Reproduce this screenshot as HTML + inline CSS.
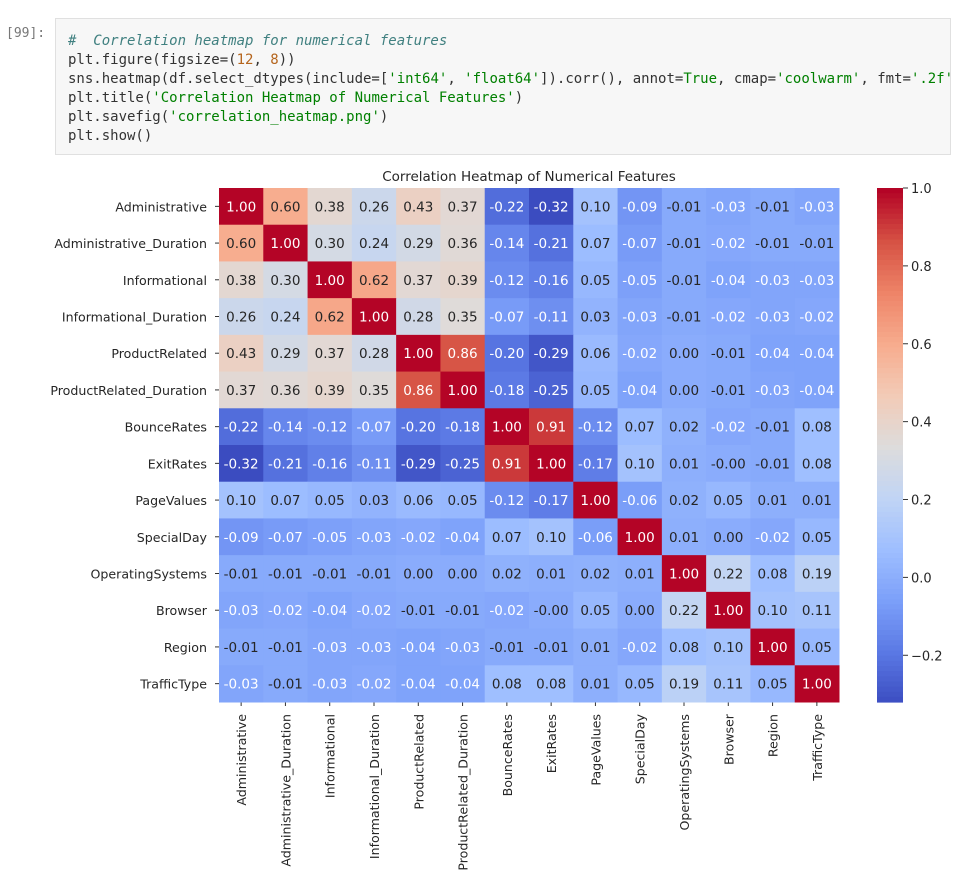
<!DOCTYPE html>
<html><head><meta charset="utf-8"><style>
body{margin:0;background:#fff;width:978px;height:871px;overflow:hidden;font-family:"DejaVu Sans","Liberation Sans",sans-serif;}
.prompt{position:absolute;left:6px;top:26px;font:13px "DejaVu Sans Mono","Liberation Mono",monospace;color:#777;}
.cell{position:absolute;left:55px;top:18px;width:896px;height:137px;background:#f7f7f7;border:1px solid #e0e0e0;box-sizing:border-box;overflow:hidden;}
pre{margin:0;position:absolute;left:12px;top:13px;font:14px/19px "DejaVu Sans Mono","Liberation Mono",monospace;color:#333;}
.c{color:#408080;font-style:italic}.s{color:#008000}.n{color:#b5651d}
</style></head><body>
<div class="prompt">[99]:</div>
<div class="cell"><pre><span class="c">#  Correlation heatmap for numerical features</span>
plt.figure(figsize=(<span class="n">12</span>, <span class="n">8</span>))
sns.heatmap(df.select_dtypes(include=[<span class="s">'int64'</span>, <span class="s">'float64'</span>]).corr(), annot=<span class="s">True</span>, cmap=<span class="s">'coolwarm'</span>, fmt=<span class="s">'.2f'</span>)
plt.title(<span class="s">'Correlation Heatmap of Numerical Features'</span>)
plt.savefig(<span class="s">'correlation_heatmap.png'</span>)
plt.show()</pre></div>
<svg id="chart" width="978" height="871" style="position:absolute;left:0;top:0"></svg>
<script>
const labels=["Administrative","Administrative_Duration","Informational","Informational_Duration","ProductRelated","ProductRelated_Duration","BounceRates","ExitRates","PageValues","SpecialDay","OperatingSystems","Browser","Region","TrafficType"];
const values=[
[1.00,0.60,0.38,0.26,0.43,0.37,-0.22,-0.32,0.10,-0.09,-0.01,-0.03,-0.01,-0.03],
[0.60,1.00,0.30,0.24,0.29,0.36,-0.14,-0.21,0.07,-0.07,-0.01,-0.02,-0.01,-0.01],
[0.38,0.30,1.00,0.62,0.37,0.39,-0.12,-0.16,0.05,-0.05,-0.01,-0.04,-0.03,-0.03],
[0.26,0.24,0.62,1.00,0.28,0.35,-0.07,-0.11,0.03,-0.03,-0.01,-0.02,-0.03,-0.02],
[0.43,0.29,0.37,0.28,1.00,0.86,-0.20,-0.29,0.06,-0.02,0.00,-0.01,-0.04,-0.04],
[0.37,0.36,0.39,0.35,0.86,1.00,-0.18,-0.25,0.05,-0.04,0.00,-0.01,-0.03,-0.04],
[-0.22,-0.14,-0.12,-0.07,-0.20,-0.18,1.00,0.91,-0.12,0.07,0.02,-0.02,-0.01,0.08],
[-0.32,-0.21,-0.16,-0.11,-0.29,-0.25,0.91,1.00,-0.17,0.10,0.01,-0.001,-0.01,0.08],
[0.10,0.07,0.05,0.03,0.06,0.05,-0.12,-0.17,1.00,-0.06,0.02,0.05,0.01,0.01],
[-0.09,-0.07,-0.05,-0.03,-0.02,-0.04,0.07,0.10,-0.06,1.00,0.01,0.00,-0.02,0.05],
[-0.01,-0.01,-0.01,-0.01,0.00,0.00,0.02,0.01,0.02,0.01,1.00,0.22,0.08,0.19],
[-0.03,-0.02,-0.04,-0.02,-0.01,-0.01,-0.02,-0.001,0.05,0.00,0.22,1.00,0.10,0.11],
[-0.01,-0.01,-0.03,-0.03,-0.04,-0.03,-0.01,-0.01,0.01,-0.02,0.08,0.10,1.00,0.05],
[-0.03,-0.01,-0.03,-0.02,-0.04,-0.04,0.08,0.08,0.01,0.05,0.19,0.11,0.05,1.00]];
const cbTicks=[1.0,0.8,0.6,0.4,0.2,0.0,-0.2];
const cbTickLabels=["1.0","0.8","0.6","0.4","0.2","0.0","\u22120.2"];
const vmin=-0.32,vmax=1.0;
const X0=219,X1=839,Y0=188,Y1=702,n=labels.length,cw=(X1-X0)/n,ch=(Y1-Y0)/n;
const stops=[[59,76,192],[90,120,228],[123,159,249],[158,190,255],[192,212,245],[221,220,220],[242,203,183],[247,172,142],[238,132,104],[214,82,68],[180,4,38]];
function cmap(t){t=Math.max(0,Math.min(1,t));const p=t*10,i=Math.min(9,Math.floor(p)),f=p-i;return stops[i].map((a,k)=>Math.round(a+(stops[i+1][k]-a)*f));}
function norm(v){return (v-vmin)/(vmax-vmin);}
function fmt(v){const s=Math.abs(v).toFixed(2);return (v<0?'-':'')+s;}
function lum(c){const l=c.map(x=>{x/=255;return x<=0.03928?x/12.92:Math.pow((x+0.055)/1.055,2.4)});return 0.2126*l[0]+0.7152*l[1]+0.0722*l[2];}
const svg=document.getElementById('chart'),NS="http://www.w3.org/2000/svg";
function el(t,a,txt){const e=document.createElementNS(NS,t);for(const k in a)e.setAttribute(k,a[k]);if(txt!==undefined)e.textContent=txt;svg.appendChild(e);return e;}
const t=el('text',{x:(X0+X1)/2,y:181,'text-anchor':'middle','font-size':'13.5',fill:'#262626'},'Correlation Heatmap of Numerical Features');


for(let r=0;r<n;r++){for(let c=0;c<n;c++){const v=values[r][c],col=cmap(norm(v));
const rc=el('rect',{x:X0+c*cw,y:Y0+r*ch,width:cw+0.5,height:ch+0.5,fill:`rgb(${col})`});


const tx=el('text',{x:X0+(c+0.5)*cw,y:Y0+(r+0.5)*ch+5,'text-anchor':'middle','font-size':'13.5',fill:lum(col)>0.408?'#262626':'#ffffff'},fmt(v));

}
const yl=el('text',{x:X0-12,y:Y0+(r+0.5)*ch+5,'text-anchor':'end','font-size':'12.6',fill:'#262626'},labels[r]);


const cx=X0+(r+0.5)*cw;
el('line',{x1:cx,x2:cx,y1:Y1,y2:Y1+4,stroke:'#333'});
const xl=el('text',{x:cx+5,y:Y1+12,'text-anchor':'end','font-size':'12.6',fill:'#262626',transform:`rotate(-90 ${cx+5} ${Y1+12})`},labels[r]);


el('line',{x1:X0-4,x2:X0,y1:Y0+(r+0.5)*ch,y2:Y0+(r+0.5)*ch,stroke:'#333'});}
const CX=877,CW=26,steps=100;
for(let i=0;i<steps;i++){const col=cmap(1-i/steps);el('rect',{x:CX,y:Y0+i*(Y1-Y0)/steps,width:CW,height:(Y1-Y0)/steps+0.6,fill:`rgb(${col})`});}
cbTicks.forEach((v,i)=>{const y=Y0+(1-norm(v))*(Y1-Y0);el('line',{x1:CX+CW,x2:CX+CW+5,y1:y,y2:y,stroke:'#333'});
const l=el('text',{x:CX+CW+8,y:y+5,'font-size':'13',fill:'#262626'},cbTickLabels[i]);

});
</script>
</body></html>
